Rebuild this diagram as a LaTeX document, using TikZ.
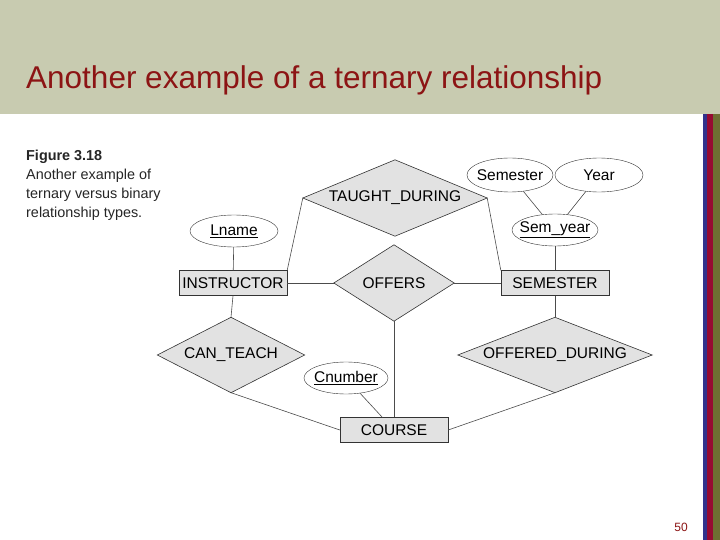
\documentclass[tikz,border=0pt]{standalone}
\usepackage{fontspec}
\setmainfont{Liberation Sans}
\usetikzlibrary{shapes.geometric}
\definecolor{hdr}{RGB}{200,203,176}
\definecolor{titlered}{RGB}{140,20,20}
\definecolor{bblue}{RGB}{50,50,140}
\definecolor{bred}{RGB}{150,10,50}
\definecolor{bolive}{RGB}{110,110,50}
\definecolor{boxfill}{RGB}{226,226,226}
\tikzset{
  dfont/.style={font=\fontsize{15.5}{18}\selectfont},
  ent/.style={draw=black!80, fill=boxfill, minimum width=108pt, minimum height=25pt, inner sep=0pt, dfont},
  rel/.style={inner sep=0pt, dfont},
  relshape/.style={draw=black!80, fill=boxfill, line width=0.6pt},
  att/.style={draw=black!80, fill=white, ellipse, inner ysep=0pt, inner xsep=-9pt, minimum height=32pt, dfont},
  ln/.style={draw=black!70, line width=0.6pt},
  captxt/.style={anchor=west, inner sep=0pt, font=\fontsize{14.4}{17}\selectfont, text=black!85}
}
\newcommand{\reldraw}[1]{\path[relshape] (#1.west) -- (#1.north) -- (#1.east) -- (#1.south) -- cycle;}
\begin{document}
\begin{tikzpicture}[x=1pt,y=-1pt]
\useasboundingbox (0,0) rectangle (720,540);
\fill[white] (0,0) rectangle (720,540);
\fill[hdr] (0,0) rectangle (720,114);
\fill[bblue] (703,114) rectangle (707,540);
\fill[bred] (707,114) rectangle (713,540);
\fill[bolive] (713,114) rectangle (720,540);
\node[anchor=west, inner sep=0pt, text=titlered, font=\fontsize{31.5}{36}\selectfont] (title) at (26,80) {Another example of a ternary relationship};
\node[captxt, font=\fontsize{14.4}{17}\selectfont\bfseries] (fig) at (26,157) {Figure 3.18};
\node[captxt] (c1) at (26,176) {Another example of};
\node[captxt] (c2) at (26,195) {ternary versus binary};
\node[captxt] (c3) at (26,214) {relationship types.};
\node[anchor=center, inner sep=0pt, text=titlered, font=\fontsize{12}{14}\selectfont] (pg) at (681,527) {50};

\node[rel, minimum width=184pt, minimum height=76pt] (td) at (395,198) {};
\node[rel, minimum width=120pt, minimum height=76pt] (of) at (394,283) {};
\node[rel, minimum width=147pt, minimum height=75pt] (ct) at (231,355) {};
\node[rel, minimum width=194pt, minimum height=75pt] (od) at (555,355) {};
\reldraw{td}\reldraw{of}\reldraw{ct}\reldraw{od}
\node[rel] (tdl) at (td.center) {TAUGHT\_DURING};
\node[rel] (ofl) at (of.center) {OFFERS};
\node[rel] (ctl) at (ct.center) {CAN\_TEACH};
\node[rel] (odl) at (od.center) {OFFERED\_DURING};
\node[ent] (ins) at (233,283) {INSTRUCTOR};
\node[ent] (sem) at (555,283) {SEMESTER};
\node[ent] (crs) at (394,430) {COURSE};
\node[att, minimum width=86pt, minimum height=34pt] (sm) at (510,175) {Semester};
\node[att, minimum width=88pt, minimum height=34pt] (yr) at (599,175) {Year};
\node[att, minimum width=86pt] (sy) at (555,230) {\underline{Sem\_year}};
\node[att, minimum width=88pt] (lname) at (234,231) {\underline{Lname}};
\node[att, minimum width=84pt] (cn) at (346,378) {\underline{Cnumber}};

\draw[ln] (td.west) -- (ins.north east);
\draw[ln] (td.east) -- (sem.north west);
\draw[ln] (lname) -- (ins);
\draw[ln] (ins.east) -- (of.west);
\draw[ln] (of.east) -- (sem.west);
\draw[ln] (of.south) -- (crs.north);
\draw[ln] (ins.south) -- (ct.north);
\draw[ln] (ct.south) -- (crs.west);
\draw[ln] (sem.south) -- (od.north);
\draw[ln] (od.south) -- (crs.east);
\draw[ln] (cn) -- (crs);
\draw[ln] (sm) -- (sy);
\draw[ln] (yr) -- (sy);
\draw[ln] (sy) -- (sem);
\end{tikzpicture}
\end{document}
